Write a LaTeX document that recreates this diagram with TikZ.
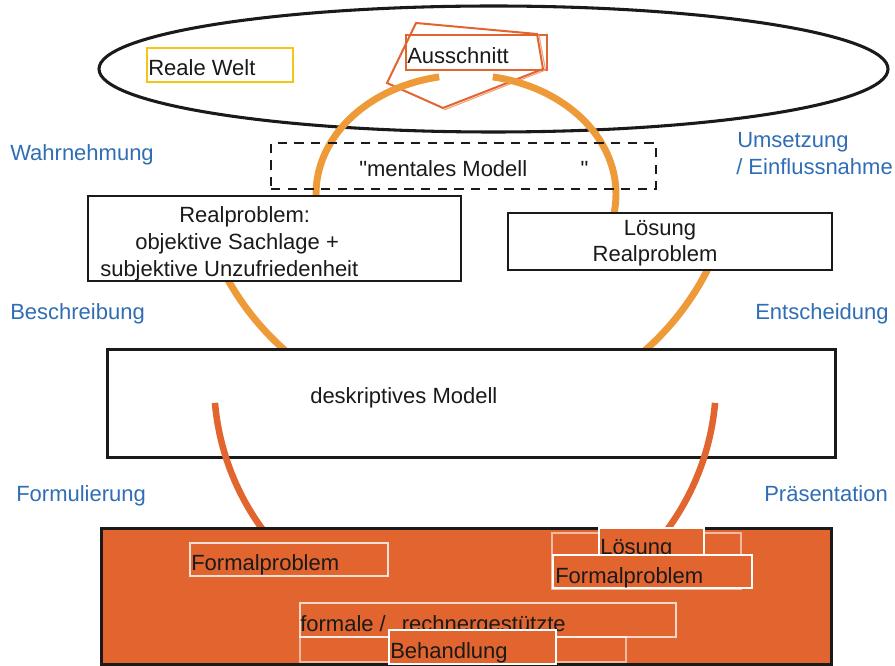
\documentclass[tikz,border=0pt]{standalone}
\usepackage{fontspec}
\setmainfont{Liberation Sans}
% plain family without TeX ligature mapping, so that " stays a straight quote
\newfontfamily\diagfont{Liberation Sans}
\usetikzlibrary{fit}

\definecolor{ringlight}{HTML}{EE9A38}
\definecolor{ringdark}{HTML}{E2642F}
\definecolor{labelblue}{HTML}{2F6DB5}
\definecolor{frameyellow}{HTML}{F5C518}
\definecolor{ink}{HTML}{1A1A1A}

\tikzset{
  txt/.style={inner sep=0pt, anchor=base west, text=ink,
    font=\diagfont\fontsize{16.5}{19.8}\selectfont},
  ctxt/.style={txt, anchor=base},
  lbl/.style={txt, text=labelblue},
  frame/.style={fit={#1}, inner sep=0pt, draw=ink, line width=1.1pt, fill=white},
  heavyframe/.style={fit={#1}, inner sep=0pt, draw=ink, line width=2.25pt, fill=white},
  subbox/.style={fit={#1}, inner sep=0pt, draw=white, line width=0.8pt},
  upring/.style={draw=ringlight, line width=5.2pt, line cap=butt},
  lowring/.style={draw=ringdark, line width=4.9pt, line cap=butt},
}

\begin{document}
\begin{tikzpicture}[x=0.75pt, y=-0.75pt]
\useasboundingbox (0,0) rectangle (895,666);

% real world ellipse
\draw[ink, line width=2.3pt, fill=white] (493.5,69) ellipse [x radius=394.5, y radius=63];

% boxes inside the ellipse
\node[fit={(147,48) (293,82)}, inner sep=0pt, draw=frameyellow, line width=1.1pt] (welt) {};
\node[txt] (weltT) at (148,76) {Reale Welt};
\node[fit={(406,35) (547,70)}, inner sep=0pt, draw=ringdark, line width=1pt] (auss) {};
\node[txt] (aussT) at (407,64) {Ausschnitt};

% pointer shape around the section
\draw[ringdark, line width=1.5pt, line join=miter]
  (416,23) -- (537,34) -- (543,69) -- (443,108) -- (387,83) -- cycle;
\draw[ringdark!60, line width=0.8pt]
  (539,35) -- (545.5,70) -- (444,110);

% upper ring: arcs around the mental model
\coordinate (upc) at (466,194);
\coordinate (midc) at (465,146.5);
\draw[upring] (upc) ++(259.7:150 and 119) arc[start angle=259.7, end angle=160, x radius=150, y radius=119];
\draw[upring] (upc) ++(280.3:150 and 119) arc[start angle=280.3, end angle=380, x radius=150, y radius=119];
\draw[upring] (midc) ++(154:272 and 272) arc[start angle=154, end angle=128, radius=272];
\draw[upring] (midc) ++(26:272 and 272) arc[start angle=26, end angle=52, radius=272];

% mental model
\node[fit={(271,143) (656,189)}, inner sep=0pt, draw=ink, line width=1.1pt,
      dash pattern=on 7pt off 5.5pt] (mental) {};
\node[txt] (mentalT) at (359,177) {"mentales Modell\hspace{40pt}"};

% real problem and its solution
\node[frame={(88,196) (461,281)}] (real) {};
\node[txt] (realA) at (179,223) {Realproblem:};
\node[txt] (realB) at (135,250) {objektive Sachlage +};
\node[txt] (realC) at (100,277) {subjektive Unzufriedenheit};

\node[frame={(508,213) (832,270)}] (sol) {};
\node[ctxt] (solA) at (660,236) {Lösung};
\node[ctxt] (solB) at (655,262) {Realproblem};

% descriptive model
\node[heavyframe={(107,349) (835,457)}] (desc) {};
\node[txt] (descT) at (310,403) {deskriptives Modell};

% lower ring
\coordinate (lowc) at (465,381);
\draw[lowring] (lowc) ++(175:251 and 251) arc[start angle=175, end angle=142, radius=251];
\draw[lowring] (lowc) ++(5:251 and 251) arc[start angle=5, end angle=38, radius=251];

% formal level
\node[fit={(101.5,528.5) (831,664.5)}, inner sep=0pt, draw=ink, line width=2.25pt, fill=ringdark] (formal) {};

\node[subbox={(190,543) (388,576)}, draw opacity=0.8] (fpL) {};
\node[txt] (fpLT) at (191,570) {Formalproblem};

\node[subbox={(552,533) (741,589)}, draw opacity=0.55] (fpBack) {};
\node[subbox={(599,528) (704,555)}, fill=ringdark] (losB) {};
\node[txt] (losT) at (600,554) {Lösung};
\node[subbox={(553,555) (752,588)}, fill=ringdark] (fpR) {};
\node[txt] (fpRT) at (555,583) {Formalproblem};

\node[subbox={(300,637) (626,662)}, draw opacity=0.55] (treatBack) {};
\node[subbox={(300,603) (676,637)}, draw opacity=0.75] (treat) {};
\node[txt] (treatT) at (300,631) {formale /\hspace{12pt}rechnergestützte};
\node[subbox={(389,630) (556,664)}, fill=ringdark] (behand) {};
\node[txt] (behandT) at (390,658) {Behandlung};

% process labels
\node[lbl] (wahr) at (10,161) {Wahrnehmung};
\node[lbl] (ums) at (737,148) {Umsetzung};
\node[lbl] (einfl) at (736,175) {/ Einflussnahme};
\node[lbl] (besch) at (10,320) {Beschreibung};
\node[lbl] (entsch) at (755,320) {Entscheidung};
\node[lbl] (formul) at (16,501) {Formulierung};
\node[lbl] (praes) at (764,501) {Präsentation};
\end{tikzpicture}
\end{document}
